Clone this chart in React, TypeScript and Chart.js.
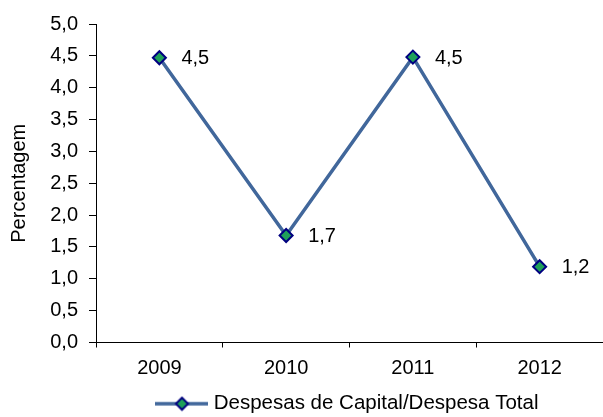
import React, { useEffect, useRef } from "react";
import { Chart, registerables } from "chart.js";

Chart.register(...registerables);

const categories = ["2009", "2010", "2011", "2012"];
const seriesValues = [4.47, 1.68, 4.48, 1.19];
const seriesLabel = "Despesas de Capital/Despesa Total";
const yTickMin = 0;
const yTickMax = 5;
const yTickStep = 0.5;
const yTitle = "Percentagem";

const FONT = "'Liberation Sans', Arial, sans-serif";
const LINE_COLOR = "#41679B";
const MARKER_FILL = "#1FA05A";
const MARKER_BORDER = "#000080";

const fmt = (v: number) => v.toFixed(1).replace(".", ",");

function makeLegendImage(): HTMLCanvasElement {
  const c = document.createElement("canvas");
  c.width = 53;
  c.height = 16;
  const ctx = c.getContext("2d")!;
  ctx.strokeStyle = LINE_COLOR;
  ctx.lineWidth = 3.5;
  ctx.beginPath();
  ctx.moveTo(0, 8);
  ctx.lineTo(53, 8);
  ctx.stroke();
  const cx = 26.5, cy = 8, r = 6;
  ctx.beginPath();
  ctx.moveTo(cx - r, cy);
  ctx.lineTo(cx, cy - r);
  ctx.lineTo(cx + r, cy);
  ctx.lineTo(cx, cy + r);
  ctx.closePath();
  ctx.fillStyle = MARKER_FILL;
  ctx.fill();
  ctx.strokeStyle = MARKER_BORDER;
  ctx.lineWidth = 2;
  ctx.stroke();
  return c;
}

const valueLabels = {
  id: "valueLabels",
  afterDatasetsDraw(chart: any) {
    const ctx = chart.ctx;
    const meta = chart.getDatasetMeta(0);
    const data = chart.data.datasets[0].data as number[];
    ctx.save();
    ctx.font = `20px ${FONT}`;
    ctx.fillStyle = "#000";
    ctx.textAlign = "left";
    ctx.textBaseline = "middle";
    meta.data.forEach((pt: any, i: number) => {
      ctx.fillText(fmt(data[i]), pt.x + 22, pt.y + 1);
    });
    ctx.restore();
  },
};

export default function App() {
  const ref = useRef<HTMLCanvasElement | null>(null);
  useEffect(() => {
    if (!ref.current) return;
    const legendImg = makeLegendImage();
    const chart = new Chart(ref.current, {
      type: "line",
      data: {
        labels: categories,
        datasets: [
          {
            label: seriesLabel,
            data: seriesValues,
            borderColor: LINE_COLOR,
            borderWidth: 3.5,
            pointStyle: "rectRot",
            pointRadius: 6.5,
            pointBackgroundColor: MARKER_FILL,
            pointBorderColor: MARKER_BORDER,
            pointBorderWidth: 2,
            tension: 0,
            fill: false,
          },
        ],
      },
      options: {
        responsive: false,
        animation: false,
        devicePixelRatio: 1,
        layout: { autoPadding: false, padding: { top: 24, right: 0, left: 0, bottom: -7 } },
        font: { family: FONT, size: 20 },
        color: "#000",
        plugins: {
          tooltip: { enabled: false },
          legend: {
            display: true,
            position: "bottom",
            fullSize: false,
            labels: {
              usePointStyle: true,
              pointStyle: legendImg as any,
              pointStyleWidth: 43,
              padding: 2,
              color: "#000",
              font: { family: FONT, size: 20.5 },
            },
          },
        },
        scales: {
          x: {
            type: "category",
            offset: true,
            afterFit: (s: any) => {
              s.height = 49;
              s.paddingLeft = 0;
              s.paddingRight = 0;
            },
            border: { display: true, color: "#000", width: 1 },
            grid: {
              offset: true,
              drawOnChartArea: false,
              drawTicks: true,
              tickLength: 5,
              color: "#000",
            },
            ticks: {
              color: "#000",
              padding: 9,
              maxRotation: 0,
              font: { family: FONT, size: 20 },
            },
          },
          y: {
            min: yTickMin,
            max: yTickMax,
            afterFit: (s: any) => {
              s.width = 96;
            },
            border: { display: true, color: "#000", width: 1 },
            grid: {
              drawOnChartArea: false,
              drawTicks: true,
              tickLength: 7,
              color: "#000",
            },
            ticks: {
              stepSize: yTickStep,
              color: "#000",
              padding: 11,
              font: { family: FONT, size: 20 },
              callback: (v: any) => fmt(Number(v)),
            },
            title: {
              display: true,
              text: yTitle,
              color: "#000",
              padding: { top: 7, bottom: 0 },
              font: { family: FONT, size: 20 },
            },
          },
        },
      },
      plugins: [valueLabels],
    });
    return () => chart.destroy();
  }, []);
  return (
    <div style={{ position: "fixed", left: 0, top: 0, width: 603, height: 417, background: "#fff" }}>
      <canvas ref={ref} width={603} height={417} style={{ display: "block" }} />
    </div>
  );
}
